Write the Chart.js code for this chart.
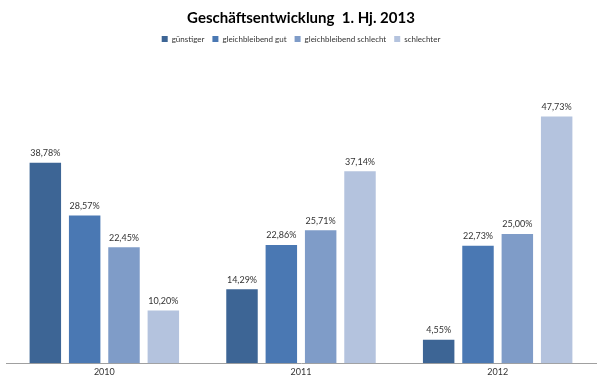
<!DOCTYPE html>
<html>
<head>
<meta charset="utf-8">
<script src="https://cdn.jsdelivr.net/npm/chart.js@4"></script>
<style>
  html, body { margin: 0; padding: 0; background: #fff; }
</style>
</head>
<body>
<canvas id="chart" width="600" height="380"></canvas>
<script>
const YEARS = ['2010', '2011', '2012'];
const GUENSTIGER = [38.78, 14.29, 4.55];
const GLEICH_GUT = [28.57, 22.86, 22.73];
const GLEICH_SCHLECHT = [22.45, 25.71, 25.00];
const SCHLECHTER = [10.20, 37.14, 47.73];

const SERIES = [
    ['günstiger', GUENSTIGER, '#3d6595'],
    ['gleichbleibend gut', GLEICH_GUT, '#4a78b3'],
    ['gleichbleibend schlecht', GLEICH_SCHLECHT, '#7f9cc8'],
    ['schlechter', SCHLECHTER, '#b4c3de']
];

const FONT = 'Lato, "Open Sans", sans-serif';

// ===== DATA LABELS =====
const valueLabels = {
    id: 'valueLabels',
    afterDatasetsDraw(chart) {
        const ctx = chart.ctx;
        ctx.save();
        ctx.font = '9px ' + FONT;
        ctx.fillStyle = '#333';
        ctx.textAlign = 'center';
        ctx.textBaseline = 'bottom';
        chart.data.datasets.forEach((ds, i) => {
            chart.getDatasetMeta(i).data.forEach((bar, j) => {
                const txt = ds.data[j].toFixed(2).replace('.', ',') + '%';
                ctx.fillText(txt, bar.x, bar.y - 5);
            });
        });
        ctx.restore();
    }
};

new Chart(document.getElementById('chart'), {
    type: 'bar',
    data: {
        labels: YEARS,
        datasets: SERIES.map(([label, data, color]) => ({
            label,
            data,
            backgroundColor: color,
            categoryPercentage: 0.8,
            barPercentage: 0.8
        }))
    },
    options: {
        responsive: false,
        animation: false,
        layout: { padding: { left: 6, right: 4, top: 7, bottom: 0 } },
        plugins: {
            title: {
                display: true,
                text: 'Geschäftsentwicklung  1. Hj. 2013',
                color: '#000',
                font: { family: FONT, size: 15, weight: 'bold' },
                padding: { top: 2, bottom: 0 }
            },
            legend: {
                labels: {
                    boxWidth: 6,
                    boxHeight: 6,
                    padding: 8,
                    color: '#333',
                    font: { family: FONT, size: 8 }
                }
            },
            tooltip: { enabled: false }
        },
        scales: {
            x: {
                grid: { display: false, drawTicks: false },
                border: { display: true, color: '#a0a0a0' },
                ticks: { color: '#333', font: { family: FONT, size: 9 }, padding: 3 }
            },
            y: {
                display: false,
                min: 0,
                max: 60
            }
        }
    },
    plugins: [valueLabels]
});
</script>
</body>
</html>
